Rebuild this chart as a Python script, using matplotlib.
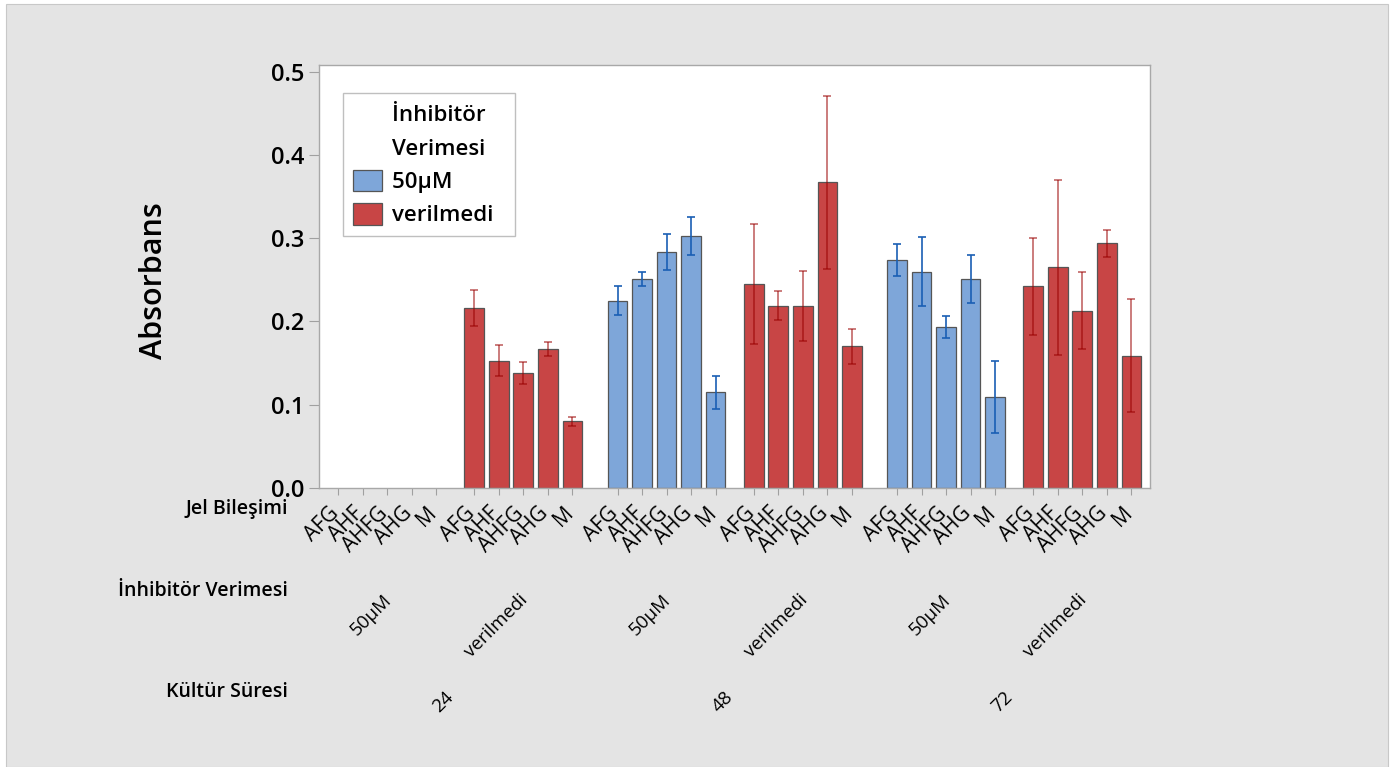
import matplotlib.pyplot as plt
from matplotlib.patches import Rectangle
import numpy as np

plt.rcParams['font.family'] = ['Open Sans', 'DejaVu Sans']

# Factor levels
jel = ['AFG', 'AHF', 'AHFG', 'AHG', 'M']
inhibitor = ['50µM', 'verilmedi']
sure = ['24', '48', '72']

# Mean absorbance and error half-widths, one list per (süre, inhibitör) cell
nan = np.nan
mean_24_50 = [nan, nan, nan, nan, nan]
err_24_50 = [nan, nan, nan, nan, nan]
mean_24_ver = [0.216, 0.153, 0.138, 0.167, 0.080]
err_24_ver = [0.022, 0.019, 0.013, 0.008, 0.0055]
mean_48_50 = [0.225, 0.251, 0.283, 0.303, 0.115]
err_48_50 = [0.017, 0.009, 0.0215, 0.023, 0.020]
mean_48_ver = [0.245, 0.219, 0.219, 0.367, 0.170]
err_48_ver = [0.072, 0.0175, 0.042, 0.104, 0.0215]
mean_72_50 = [0.274, 0.260, 0.193, 0.251, 0.109]
err_72_50 = [0.019, 0.042, 0.013, 0.029, 0.043]
mean_72_ver = [0.242, 0.265, 0.213, 0.294, 0.159]
err_72_ver = [0.058, 0.105, 0.046, 0.016, 0.068]

means = [[mean_24_50, mean_24_ver], [mean_48_50, mean_48_ver], [mean_72_50, mean_72_ver]]
errs = [[err_24_50, err_24_ver], [err_48_50, err_48_ver], [err_72_50, err_72_ver]]

bar_colors = ['#7ea6d9', '#c84545']
err_colors = [('#1a5fb4', 1.0), ('#9a0000', 0.6)]

gap_sub = 1.55
gap_time = 1.84
step_time = 4 + gap_sub + 4 + gap_time

fig = plt.figure(figsize=(13.99, 7.67), dpi=100)
fig.patch.set_facecolor('white')
fig.patches.append(Rectangle((6 / 1399, 0), 1382 / 1399, 763 / 767, transform=fig.transFigure,
                             facecolor='#e4e4e4', edgecolor='#c8c8c8', linewidth=0.8, zorder=-10))

ax = fig.add_axes([319 / 1399, 1 - 488 / 767, 831 / 1399, 423 / 767])
ax.set_facecolor('white')

tick_pos = []
sub_centers = []
time_centers = []
for k in range(len(sure)):
    tpos = []
    for j in range(len(inhibitor)):
        x = k * step_time + j * (4 + gap_sub) + np.arange(len(jel))
        tick_pos.extend(x)
        tpos.extend(x)
        sub_centers.append((x.mean(), inhibitor[j]))
        ax.bar(x, means[k][j], width=0.8, color=bar_colors[j], edgecolor='#555555',
               linewidth=0.9, zorder=2)
        ec, ea = err_colors[j]
        ax.errorbar(x, means[k][j], yerr=errs[k][j], fmt='none', ecolor=ec, alpha=ea,
                    elinewidth=1.2, capsize=3, capthick=1.2, zorder=3)
    time_centers.append((np.mean(tpos), sure[k]))

ax.set_xlim(tick_pos[0] - 0.776, tick_pos[-1] + 0.76)
ax.set_ylim(0, 0.508)
ax.set_yticks(np.arange(0, 0.51, 0.1))
ax.set_yticklabels([f'{v:.1f}' for v in np.arange(0, 0.51, 0.1)], fontsize=17,
                   fontweight='semibold')
ax.set_xticks(tick_pos)
ax.set_xticklabels([])
ax.tick_params(axis='y', length=7, width=0.8, color='#a0a0a0', pad=3.5)
ax.tick_params(axis='x', length=5, width=0.8, color='#a0a0a0')
for s in ax.spines.values():
    s.set_color('#a8a8a8')
    s.set_linewidth(1.0)

ax.set_ylabel('Absorbans', fontsize=22, fontweight='semibold')
ax.yaxis.set_label_coords(-0.181, 0.49)

# Category rows under the axis
xt = ax.get_xaxis_transform()
px = 831 / (tick_pos[-1] + 0.76 - tick_pos[0] + 0.776)
for i, x in enumerate(tick_pos):
    ax.text(x + 5 / px, (488 - 503) / 423, jel[i % len(jel)], transform=xt, rotation=45,
            ha='right', va='top', fontsize=15)
for x, lab in sub_centers:
    ax.text(x + 8 / px, (488 - 591) / 423, lab, transform=xt, rotation=45,
            ha='right', va='top', fontsize=13.5)
for x, lab in time_centers:
    ax.text(x + 2 / px, (488 - 688) / 423, lab, transform=xt, rotation=45,
            ha='right', va='top', fontsize=13.5)

for lab, ypx in [('Jel Bileşimi', 509), ('İnhibitör Verimesi', 591), ('Kültür Süresi', 692)]:
    ax.text(-31 / 831, (488 - ypx) / 423, lab, transform=ax.transAxes, ha='right',
            va='center', fontsize=14, fontweight='semibold')

# Legend: title lines are written as blank entries so they align with labels
blank = Rectangle((0, 0), 1, 1, visible=False)
handles = [blank, blank,
           Rectangle((0, 0), 1, 1, facecolor=bar_colors[0], edgecolor='#555555', linewidth=0.9),
           Rectangle((0, 0), 1, 1, facecolor=bar_colors[1], edgecolor='#555555', linewidth=0.9)]
labels = [s + '  ' for s in ['İnhibitör', 'Verimesi'] + inhibitor]
leg = ax.legend(handles, labels, loc='upper left', bbox_to_anchor=(0.029, 0.934),
                borderaxespad=0, fontsize=16, frameon=True, fancybox=False,
                handlelength=1.3, handleheight=1.12, handletextpad=0.45,
                labelspacing=0.45, borderpad=0.45)
leg.get_frame().set_edgecolor('#b0b0b0')
leg.get_frame().set_linewidth(1.0)
for t in leg.get_texts():
    t.set_fontweight('semibold')

fig.savefig('out.png', dpi=100)
